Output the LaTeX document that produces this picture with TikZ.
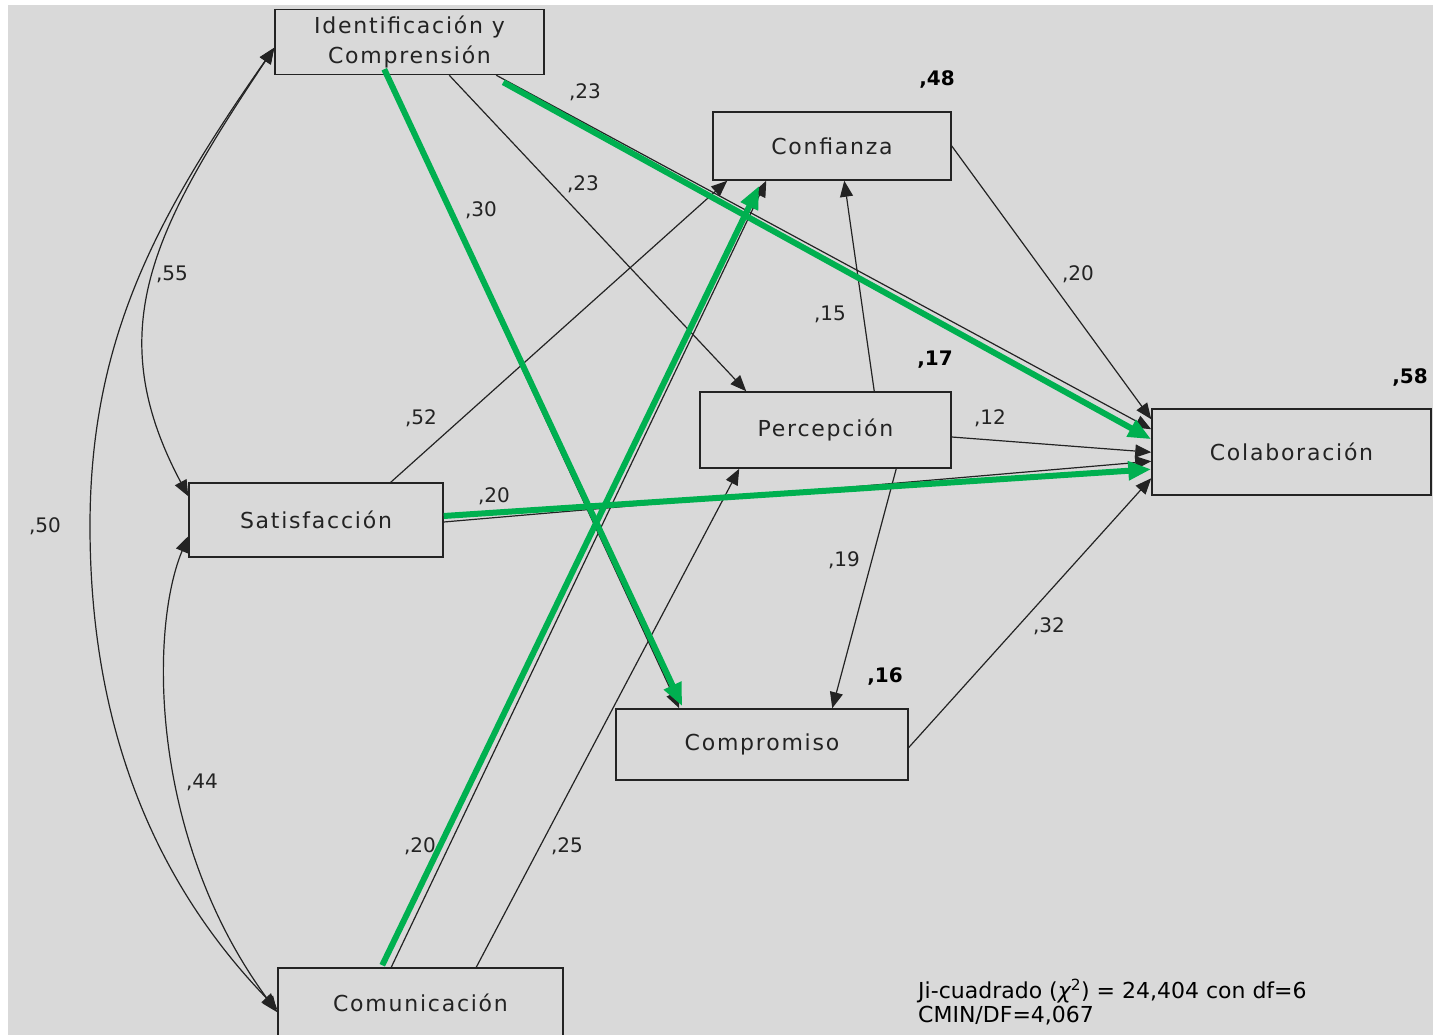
\documentclass[tikz,border=0pt]{standalone}
\usepackage{fontspec}
\setmainfont{DejaVu Sans}
\newfontfamily\amosfont[LetterSpace=8]{DejaVu Sans}
\usetikzlibrary{arrows.meta,calc}
\definecolor{amosgray}{RGB}{217,217,217}
\definecolor{pathgreen}{RGB}{0,176,80}
\definecolor{inkgray}{RGB}{35,35,35}
\tikzset{
	var/.style={draw=inkgray, line width=1.5pt, inner sep=0pt, text=inkgray, font=\amosfont\fontsize{22}{30}\selectfont},
	coef/.style={inner sep=0pt, text=inkgray, font=\fontsize{20}{24}\selectfont},
	rsq/.style={inner sep=0pt, text=black, font=\bfseries\fontsize{20}{24}\selectfont},
	effect/.style={draw=inkgray, line width=1.2pt, -{Triangle[length=16pt,width=13pt]}},
	cov/.style={draw=inkgray, line width=1.2pt, {Triangle[length=16pt,width=13pt]}-{Triangle[length=16pt,width=13pt]}},
	sig/.style={draw=pathgreen, line width=6pt, -{Triangle[length=23pt,width=18pt]}}
}
\begin{document}
\begin{tikzpicture}[x=1pt,y=-1pt]
	% Canvas
	\useasboundingbox (0,0) rectangle (1433,1035);
	\clip (0,0) rectangle (1433,1035);
	\fill[white] (0,0) rectangle (1433,1035);
	\fill[amosgray] (8,5) rectangle (1433,1035);
	
	% Variables
	\node[var, minimum width=269pt, minimum height=65pt, align=center] (ident) at (409.5,42) {Identificación y\\Comprensión};
	\node[var, minimum width=238pt, minimum height=68pt] (conf) at (832,146) {Confianza};
	\node[var, minimum width=251pt, minimum height=76pt] (perc) at (825.5,430) {Percepción};
	\node[var, minimum width=279pt, minimum height=86pt] (colab) at (1291.5,452) {Colaboración};
	\node[var, minimum width=254pt, minimum height=74pt] (satis) at (316,520) {Satisfacción};
	\node[var, minimum width=292pt, minimum height=71pt] (compro) at (762,744.5) {Compromiso};
	\node[var, minimum width=285pt, minimum height=70pt] (comun) at (420.5,1003) {Comunicación};
	
	% Covariances
	\coordinate (bend50) at (90,526);
	\draw[cov] ($(ident.north west)+(0,39)$) .. controls +(-120,180) and +(-89,-167) .. ($(satis.north west)+(0,14)$);
	\draw[cov] ($(ident.north west)+(0,39)$) .. controls +(-115,165) and +(0,-190) .. (bend50) .. controls +(0,190) and +(-130,-135) .. ($(comun.north west)+(0,42)$);
	\draw[cov] ($(satis.north west)+(0,54)$) .. controls +(-39,93) and +(-128,-173) .. ($(comun.north west)+(0,45)$);
	
	% Paths
	\draw[effect] ($(ident.south west)+(222,0)$) -- ($(colab.north west)+(0,21)$);
	\draw[effect] ($(ident.south west)+(175,0)$) -- ($(perc.north west)+(47,0)$);
	\draw[effect] ($(ident.south west)+(112,0)$) -- ($(compro.north west)+(64,0)$);
	\draw[effect] ($(satis.north east)+(-53,0)$) -- ($(conf.south west)+(15,0)$);
	\draw[effect] ($(satis.east)+(0,2)$) -- ($(colab.north west)+(0,53)$);
	\draw[effect] ($(comun.north west)+(114,0)$) -- ($(conf.south west)+(54,0)$);
	\draw[effect] ($(comun.north west)+(199,0)$) -- ($(perc.south west)+(40,0)$);
	\draw[effect] ($(perc.north west)+(175,0)$) -- ($(conf.south west)+(132,0)$);
	\draw[effect] ($(perc.south west)+(197,0)$) -- ($(compro.north west)+(217,0)$);
	\draw[effect] ($(perc.east)+(0,7)$) -- ($(colab.north west)+(0,44)$);
	\draw[effect] (conf.east) -- ($(colab.north west)+(0,11)$);
	\draw[effect] ($(compro.east)+(0,3)$) -- ($(colab.north west)+(0,70)$);
	
	% Significant paths
	\draw[sig] ($(ident.south west)+(229,7)$) -- ($(colab.north west)+(0,31)$);
	\draw[sig] ($(ident.south west)+(110,-6)$) -- ($(compro.north west)+(67,-2)$);
	\draw[sig] ($(satis.east)+(0,-4)$) -- ($(colab.north west)+(0,61)$);
	\draw[sig] ($(comun.north west)+(105,-2)$) -- ($(conf.south west)+(47,5)$);
	
	% Coefficients
	\node[coef] (c23a) at (585,92) {,23};
	\node[coef] (c23b) at (583,184) {,23};
	\node[coef] (c30) at (481,210) {,30};
	\node[coef] (c55) at (172,274) {,55};
	\node[coef] (c50) at (45,526) {,50};
	\node[coef] (c52) at (421,418) {,52};
	\node[coef] (c20a) at (494,496) {,20};
	\node[coef] (c44) at (202,782) {,44};
	\node[coef] (c20b) at (420,846) {,20};
	\node[coef] (c25) at (567,846) {,25};
	\node[coef] (c15) at (830,314) {,15};
	\node[coef] (c19) at (844,560) {,19};
	\node[coef] (c12) at (990,418) {,12};
	\node[coef] (c20c) at (1078,274) {,20};
	\node[coef] (c32) at (1049,626) {,32};
	
	% Explained variance
	\node[rsq] (r48) at (937,80) {,48};
	\node[rsq] (r17) at (935,360) {,17};
	\node[rsq] (r58) at (1410,377) {,58};
	\node[rsq] (r16) at (885,677) {,16};
	
	% Fit
	\node[anchor=north west, align=left, inner sep=0pt, font=\fontsize{22}{24}\selectfont] (fit) at (918,979) {Ji-cuadrado ({\itshape χ}\textsuperscript{2}) = 24,404 con df=6\\CMIN/DF=4,067};
\end{tikzpicture}
\end{document}
